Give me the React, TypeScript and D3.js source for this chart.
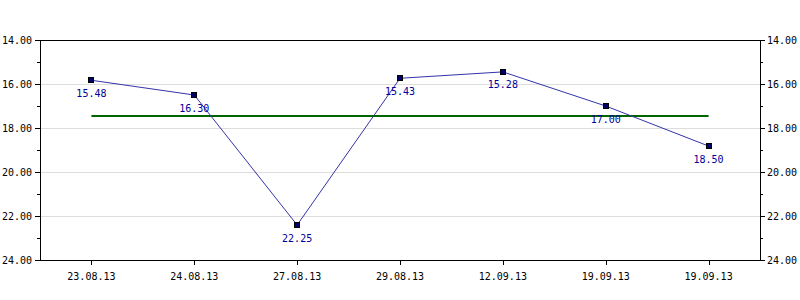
import React from "react";
import * as d3 from "d3";

const categories = ["23.08.13", "24.08.13", "27.08.13", "29.08.13", "12.09.13", "19.09.13", "19.09.13"];
const pointValues = [15.83, 16.5, 22.41, 15.74, 15.45, 17.0, 18.82];
const labelTexts = ["15.48", "16.30", "22.25", "15.43", "15.28", "17.00", "18.50"];
const averageValue = 17.45;
const yMajorTicks = [14, 16, 18, 20, 22, 24];
const yMinorTicks = [15, 17, 19, 21, 23];

const W = 800, H = 300;
const M = { left: 40, right: 40, top: 40, bottom: 40 };

export default function App() {
  const x = d3.scaleBand<number>().domain(d3.range(categories.length)).range([M.left, W - M.right]);
  const y = d3.scaleLinear().domain([14, 24]).range([M.top, H - M.bottom]);
  const cx = (i: number) => (x(i) as number) + x.bandwidth() / 2;
  const line = d3.line<number>().x((_, i) => cx(i)).y((v) => y(v));
  const font = "'DejaVu Sans Mono', monospace";
  const x0 = M.left, x1 = W - M.right, y0 = M.top, y1 = H - M.bottom;
  return (
    <svg width={W} height={H} style={{ position: "absolute", left: 0, top: 0, background: "#fff" }} fontFamily={font} fontSize={10}>
      {yMajorTicks.slice(1, -1).map((t) => (
        <line key={"g" + t} x1={x0} x2={x1} y1={Math.round(y(t)) + 0.5} y2={Math.round(y(t)) + 0.5} stroke="#dddddd" />
      ))}
      <rect x={x0 + 0.5} y={y0 + 0.5} width={x1 - x0} height={y1 - y0} fill="none" stroke="#000" />
      {yMajorTicks.map((t) => (
        <g key={"t" + t}>
          <line x1={x0 - 5} x2={x0} y1={Math.round(y(t)) + 0.5} y2={Math.round(y(t)) + 0.5} stroke="#000" />
          <line x1={x1} x2={x1 + 5} y1={Math.round(y(t)) + 0.5} y2={Math.round(y(t)) + 0.5} stroke="#000" />
          <text x={x0 - 8} y={y(t)} dy="0.35em" textAnchor="end" fill="#000">{t.toFixed(2)}</text>
          <text x={x1 + 7} y={y(t)} dy="0.35em" textAnchor="start" fill="#000">{t.toFixed(2)}</text>
        </g>
      ))}
      {yMinorTicks.map((t) => (
        <g key={"m" + t}>
          <line x1={x0 - 3} x2={x0} y1={Math.round(y(t)) + 0.5} y2={Math.round(y(t)) + 0.5} stroke="#000" />
          <line x1={x1} x2={x1 + 3} y1={Math.round(y(t)) + 0.5} y2={Math.round(y(t)) + 0.5} stroke="#000" />
        </g>
      ))}
      {categories.map((c, i) => (
        <g key={"x" + i}>
          <line x1={Math.round(cx(i)) + 0.5} x2={Math.round(cx(i)) + 0.5} y1={y1} y2={y1 + 5} stroke="#000" />
          <text x={cx(i)} y={y1 + 16} dy="0.35em" textAnchor="middle" fill="#000">{c}</text>
        </g>
      ))}
      <line x1={cx(0)} x2={cx(categories.length - 1)} y1={y(averageValue)} y2={y(averageValue)} stroke="#006600" strokeWidth={2} />
      <path d={line(pointValues) || ""} fill="none" stroke="#3333aa" strokeWidth={1} />
      {pointValues.map((v, i) => (
        <rect key={"p" + i} x={Math.round(cx(i)) - 2.5} y={Math.round(y(v)) - 2.5} width={5} height={5} fill="#000066" stroke="#000" strokeWidth={1} />
      ))}
      {pointValues.map((v, i) => (
        <text key={"l" + i} x={cx(i)} y={y(v) + 13} dy="0.35em" textAnchor="middle" fill="#000099">{labelTexts[i]}</text>
      ))}
    </svg>
  );
}
